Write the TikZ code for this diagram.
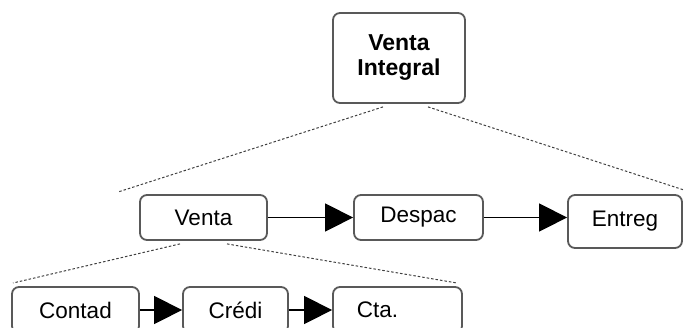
\documentclass[tikz,border=0pt]{standalone}
\usepackage{fontspec}
\setmainfont{Liberation Sans}
\usetikzlibrary{arrows.meta}

\begin{document}
\begin{tikzpicture}[x=1pt, y=-1pt,
    box/.style={draw=black!65, line width=1.8pt, rounded corners=7pt, fill=white,
      minimum height=45pt, inner sep=0pt, font=\fontsize{22.5}{25}\selectfont},
    link/.style={line width=1.4pt, -{Triangle[length=28pt, width=28pt]}},
    split/.style={gray!50!black, line width=1pt, dash pattern=on 2.5pt off 2pt}]

     \useasboundingbox (0,0) rectangle (684,327);
     \clip (0,0) rectangle (684,327);

     % spread lines
     \coordinate (topL) at (118,192);
     \coordinate (topR) at (684,190);
     \coordinate (lowL) at (13,283);
     \coordinate (lowR) at (457,283);

     % top
     \node[box, minimum width=132pt, minimum height=90pt, align=center,
       font=\bfseries\fontsize{23}{25}\selectfont] (integral) at (399,58) {Venta\\Integral};

     % middle row
     \node[box, minimum width=127pt] (venta) at (203.5,217.5) {Venta};
     \node[box, minimum width=129pt] (despac) at (418.5,217.5) {Despac};
     \node[box, minimum width=114pt, minimum height=53pt] (entreg) at (625,221.5) {Entreg};

     \draw[link] (venta.east) -- (despac.west);
     \draw[link] (despac.east) -- (despac.east -| entreg.west);

     % bottom row
     \node[box, minimum width=127pt, minimum height=46pt] (contad) at (75.5,310) {Contad};
     \node[box, minimum width=105pt, minimum height=46pt] (credi) at (235.5,310) {Crédi};
     \node[box, minimum width=129pt, minimum height=46pt] (cta) at (397.5,310) {Cta.\hspace*{40pt}};

     \draw[link] (contad.east) -- (credi.west);
     \draw[link] (credi.east) -- (cta.west);

     % dashed
     \draw[split] ([xshift=-16pt, yshift=-3pt]integral.south) -- (topL);
     \draw[split] ([xshift=29pt, yshift=-3pt]integral.south) -- (topR);
     \draw[split] ([xshift=-23.5pt, yshift=-3pt]venta.south) -- (lowL);
     \draw[split] ([xshift=23.5pt, yshift=-3pt]venta.south) -- (lowR);

\end{tikzpicture}
\end{document}
